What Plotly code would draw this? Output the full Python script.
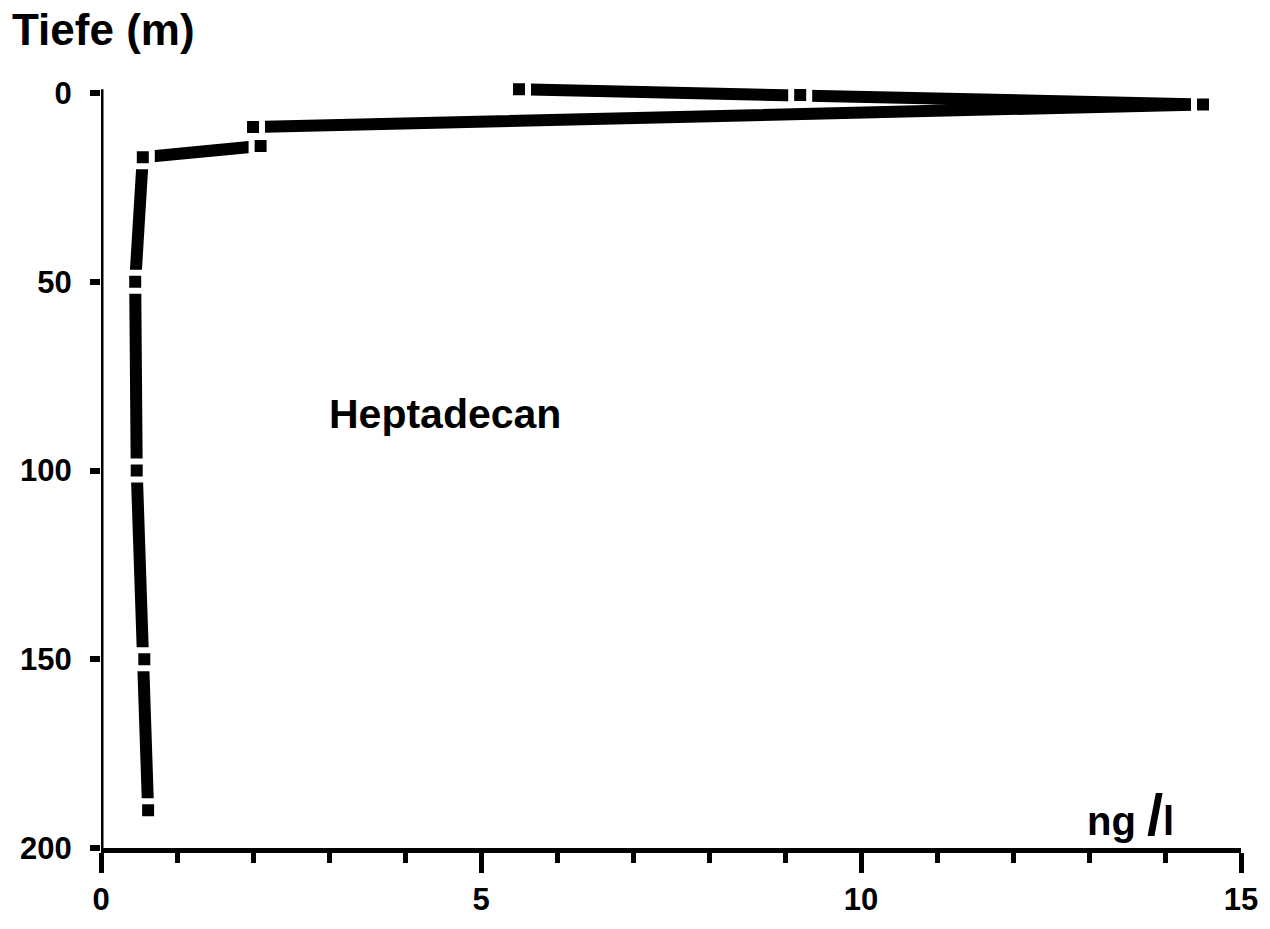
import plotly.graph_objects as go

# Data (Heptadecan depth profile)
conc_ng_l = [5.5, 9.2, 14.5, 2.0, 2.1, 0.55, 0.45, 0.47, 0.57, 0.62]
depth_m = [-1, 0.5, 3, 9, 14, 17, 50, 100, 150, 190]

x_ticks = [0, 5, 10, 15]
y_ticks = [0, 50, 100, 150, 200]

FONT = "Liberation Sans, Arial, sans-serif"

fig = go.Figure()
fig.add_trace(go.Scatter(
    x=conc_ng_l, y=depth_m, mode="lines+markers",
    line=dict(color="black", width=12),
    marker=dict(symbol="square", size=18, color="black",
                line=dict(color="white", width=6)),
    cliponaxis=False, showlegend=False,
))

fig.update_layout(
    width=1270, height=929,
    paper_bgcolor="white", plot_bgcolor="white",
    margin=dict(l=101, r=29, t=78, b=81),
    font=dict(family=FONT, color="black"),
    xaxis=dict(
        range=[0, 15], tickvals=x_ticks, ticktext=[f"<b>{v}</b>" for v in x_ticks],
        showgrid=False, zeroline=False,
        showline=True, linecolor="black", linewidth=5,
        ticks="outside", ticklen=20, tickwidth=5, tickcolor="black",
        minor=dict(dtick=1, ticks="outside", ticklen=10, tickwidth=5,
                   tickcolor="black", showgrid=False),
        tickfont=dict(size=31, family=FONT, color="black"),
        ticklabelstandoff=0,
    ),
    yaxis=dict(
        range=[200, -4], tickvals=y_ticks, ticktext=[f"<b>{v}</b>" for v in y_ticks],
        showgrid=False, zeroline=False, showline=False,
        ticks="outside", ticklen=10, tickwidth=6, tickcolor="black",
        tickfont=dict(size=31, family=FONT, color="black"),
        ticklabelstandoff=12,
    ),
    shapes=[
        dict(type="line", xref="x", yref="y", x0=0, x1=0, y0=201, y1=-1,
             line=dict(color="black", width=5)),
        dict(type="line", xref="x", yref="y", x0=-0.18, x1=0, y0=-1, y1=-1,
             line=dict(color="black", width=5)),
    ],
    annotations=[
        dict(text="<b>Tiefe (m)</b>", x=0.002, y=1.063, xref="paper", yref="paper",
             showarrow=False, xanchor="center", yanchor="middle",
             font=dict(size=44, family=FONT)),
        dict(text="<b>Heptadecan</b>", x=2.98, y=85, xref="x", yref="y",
             showarrow=False, xanchor="left", yanchor="middle",
             font=dict(size=41, family=FONT)),
        dict(text="<b>ng <span style='font-size:58px'>/</span>l</b>", x=13.55, y=191,
             xref="x", yref="y", showarrow=False, xanchor="center", yanchor="middle",
             font=dict(size=40, family=FONT)),
    ],
)

fig.write_html("out.html")
